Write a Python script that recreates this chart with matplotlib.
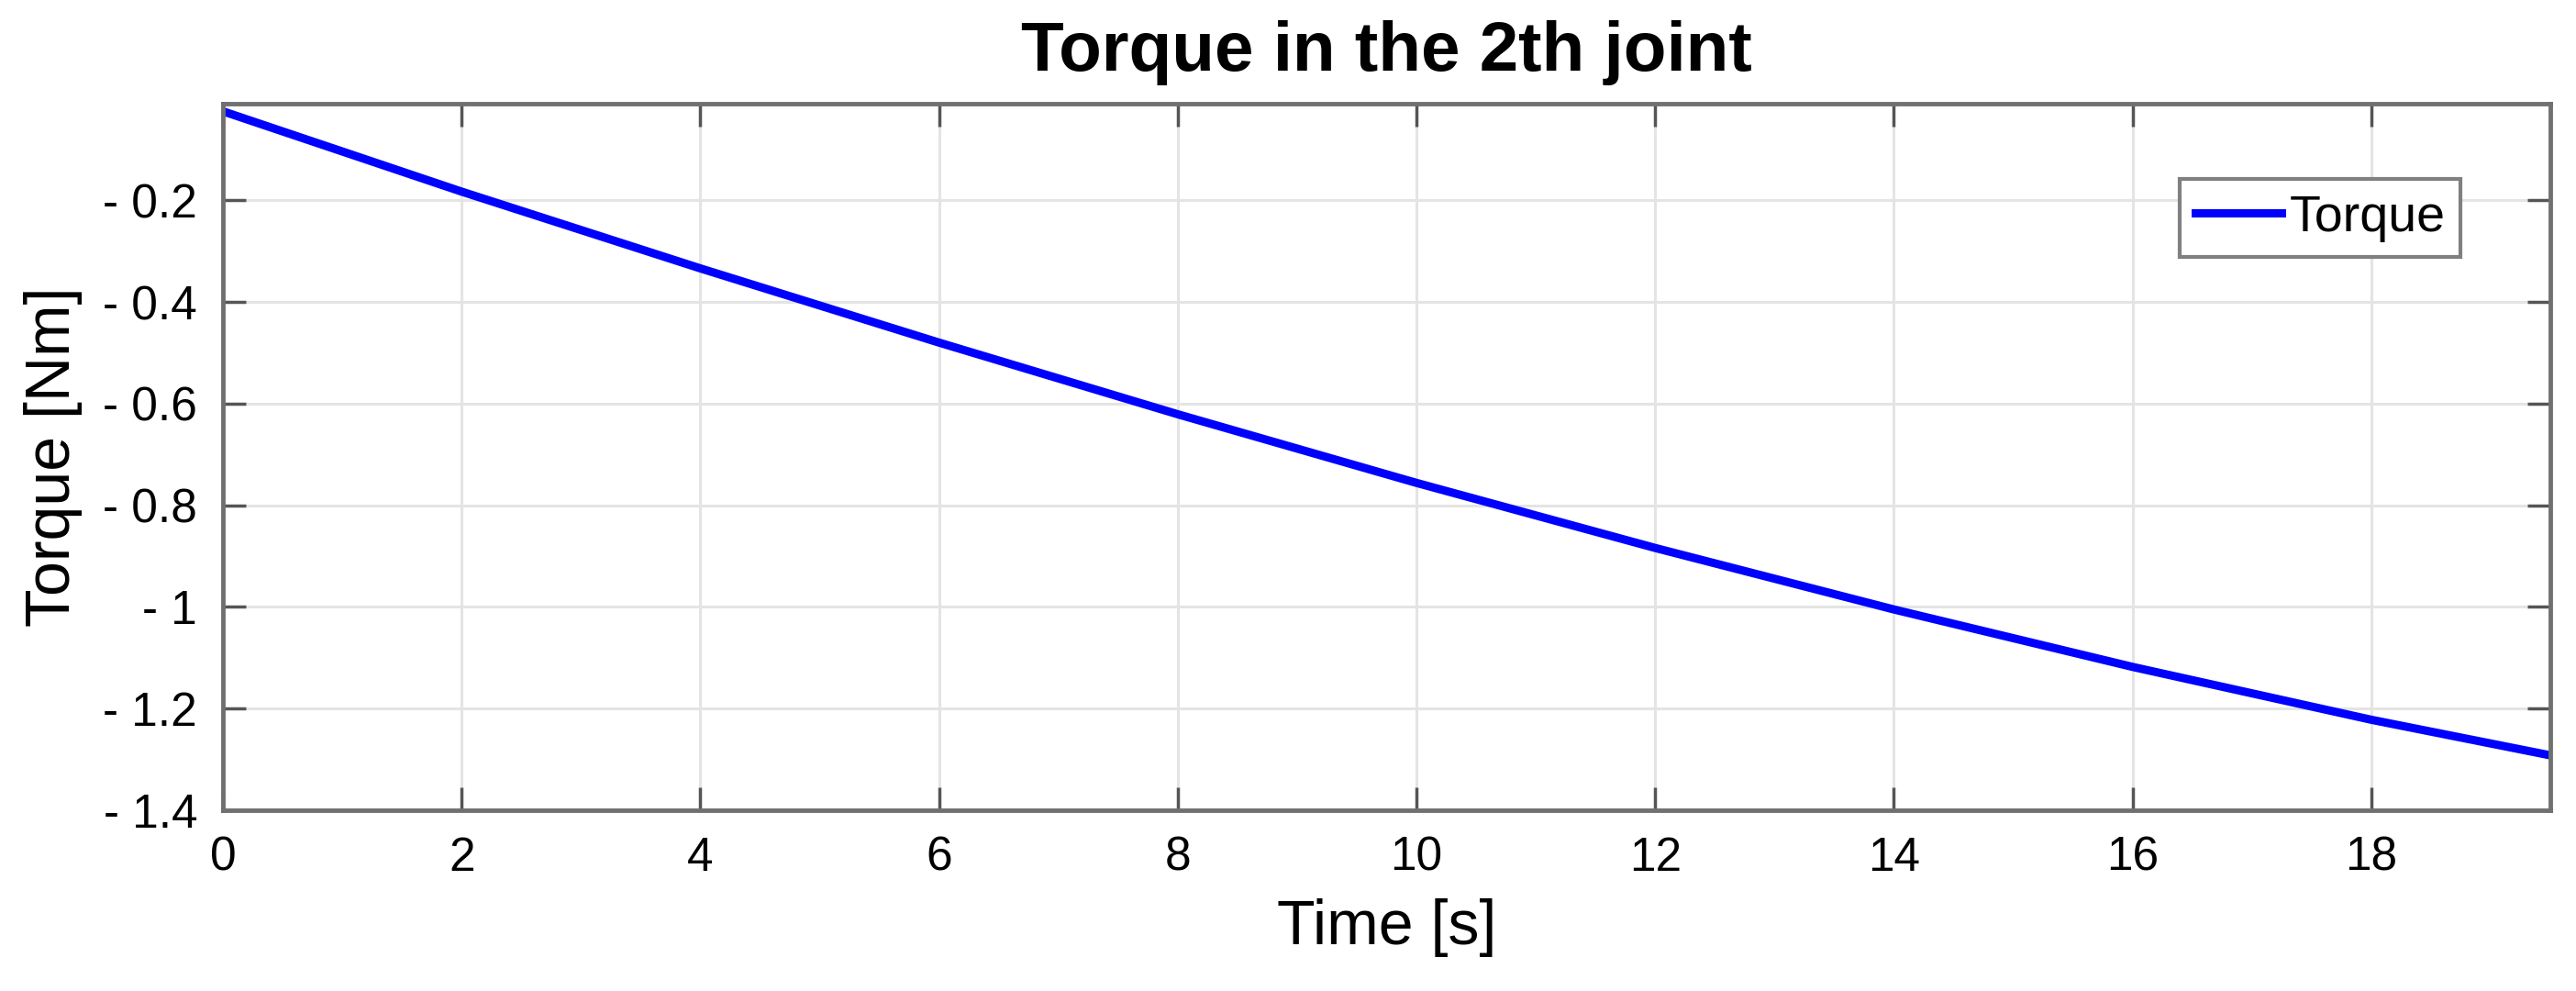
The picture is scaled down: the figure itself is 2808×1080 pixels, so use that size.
import matplotlib
matplotlib.use("Agg")
import matplotlib.pyplot as plt

# Data
time_s = [0, 2, 4, 6, 8, 10, 12, 14, 16, 18, 19.5]
torque_nm = [-0.025, -0.183, -0.334, -0.480, -0.621, -0.756, -0.884, -1.005, -1.118, -1.222, -1.292]
xticks = [0, 2, 4, 6, 8, 10, 12, 14, 16, 18]
xtick_labels = ['0', '2', '4', '6', '8', '10', '12', '14', '16', '18']
yticks = [-1.4, -1.2, -1.0, -0.8, -0.6, -0.4, -0.2]
ytick_labels = ['- 1.4', '- 1.2', '- 1', '- 0.8', '- 0.6', '- 0.4', '- 0.2']

plt.rcParams['font.family'] = ['Liberation Sans', 'DejaVu Sans']

W, H = 2808, 1080
fig = plt.figure(figsize=(W / 100, H / 100), dpi=100)
ax = fig.add_axes([243 / W, 1 - 883 / H, (2780 - 243) / W, (883 - 113) / H])

ax.plot(time_s, torque_nm, color='#0000ff', lw=6.5, label='Torque',
        solid_joinstyle='round')

ax.set_xlim(0, 19.5)
ax.set_ylim(-1.4, -0.01)
ax.set_xticks(xticks)
ax.set_xticklabels(xtick_labels)
ax.set_yticks(yticks)
ax.set_yticklabels(ytick_labels)

ax.grid(True, color='#e4e4e4', lw=2.2)
ax.set_axisbelow(True)
for s in ax.spines.values():
    s.set_color('#707070')
    s.set_linewidth(3.5)
ax.tick_params(axis='both', direction='in', length=18, width=2.5, color='#555555',
               top=True, right=True, labelsize=37, pad=20, labelcolor='black')

ax.set_title('Torque in the 2th joint', fontsize=55, fontweight='bold', pad=26)
ax.set_xlabel('Time [s]', fontsize=49, labelpad=14)
ax.set_ylabel('Torque [Nm]', fontsize=49)
ax.yaxis.set_label_coords((90 - 243) / (2780 - 243), 0.5)

leg = ax.legend(loc='upper right', bbox_to_anchor=(2682 / W, 1 - 195 / H),
                bbox_transform=fig.transFigure, borderaxespad=0, fontsize=40,
                fancybox=False, framealpha=1, edgecolor='#808080',
                handlelength=1.7, handletextpad=0.15, borderpad=0.3)
leg.get_frame().set_linewidth(3)

fig.savefig('out.png', dpi=100, facecolor='white')
